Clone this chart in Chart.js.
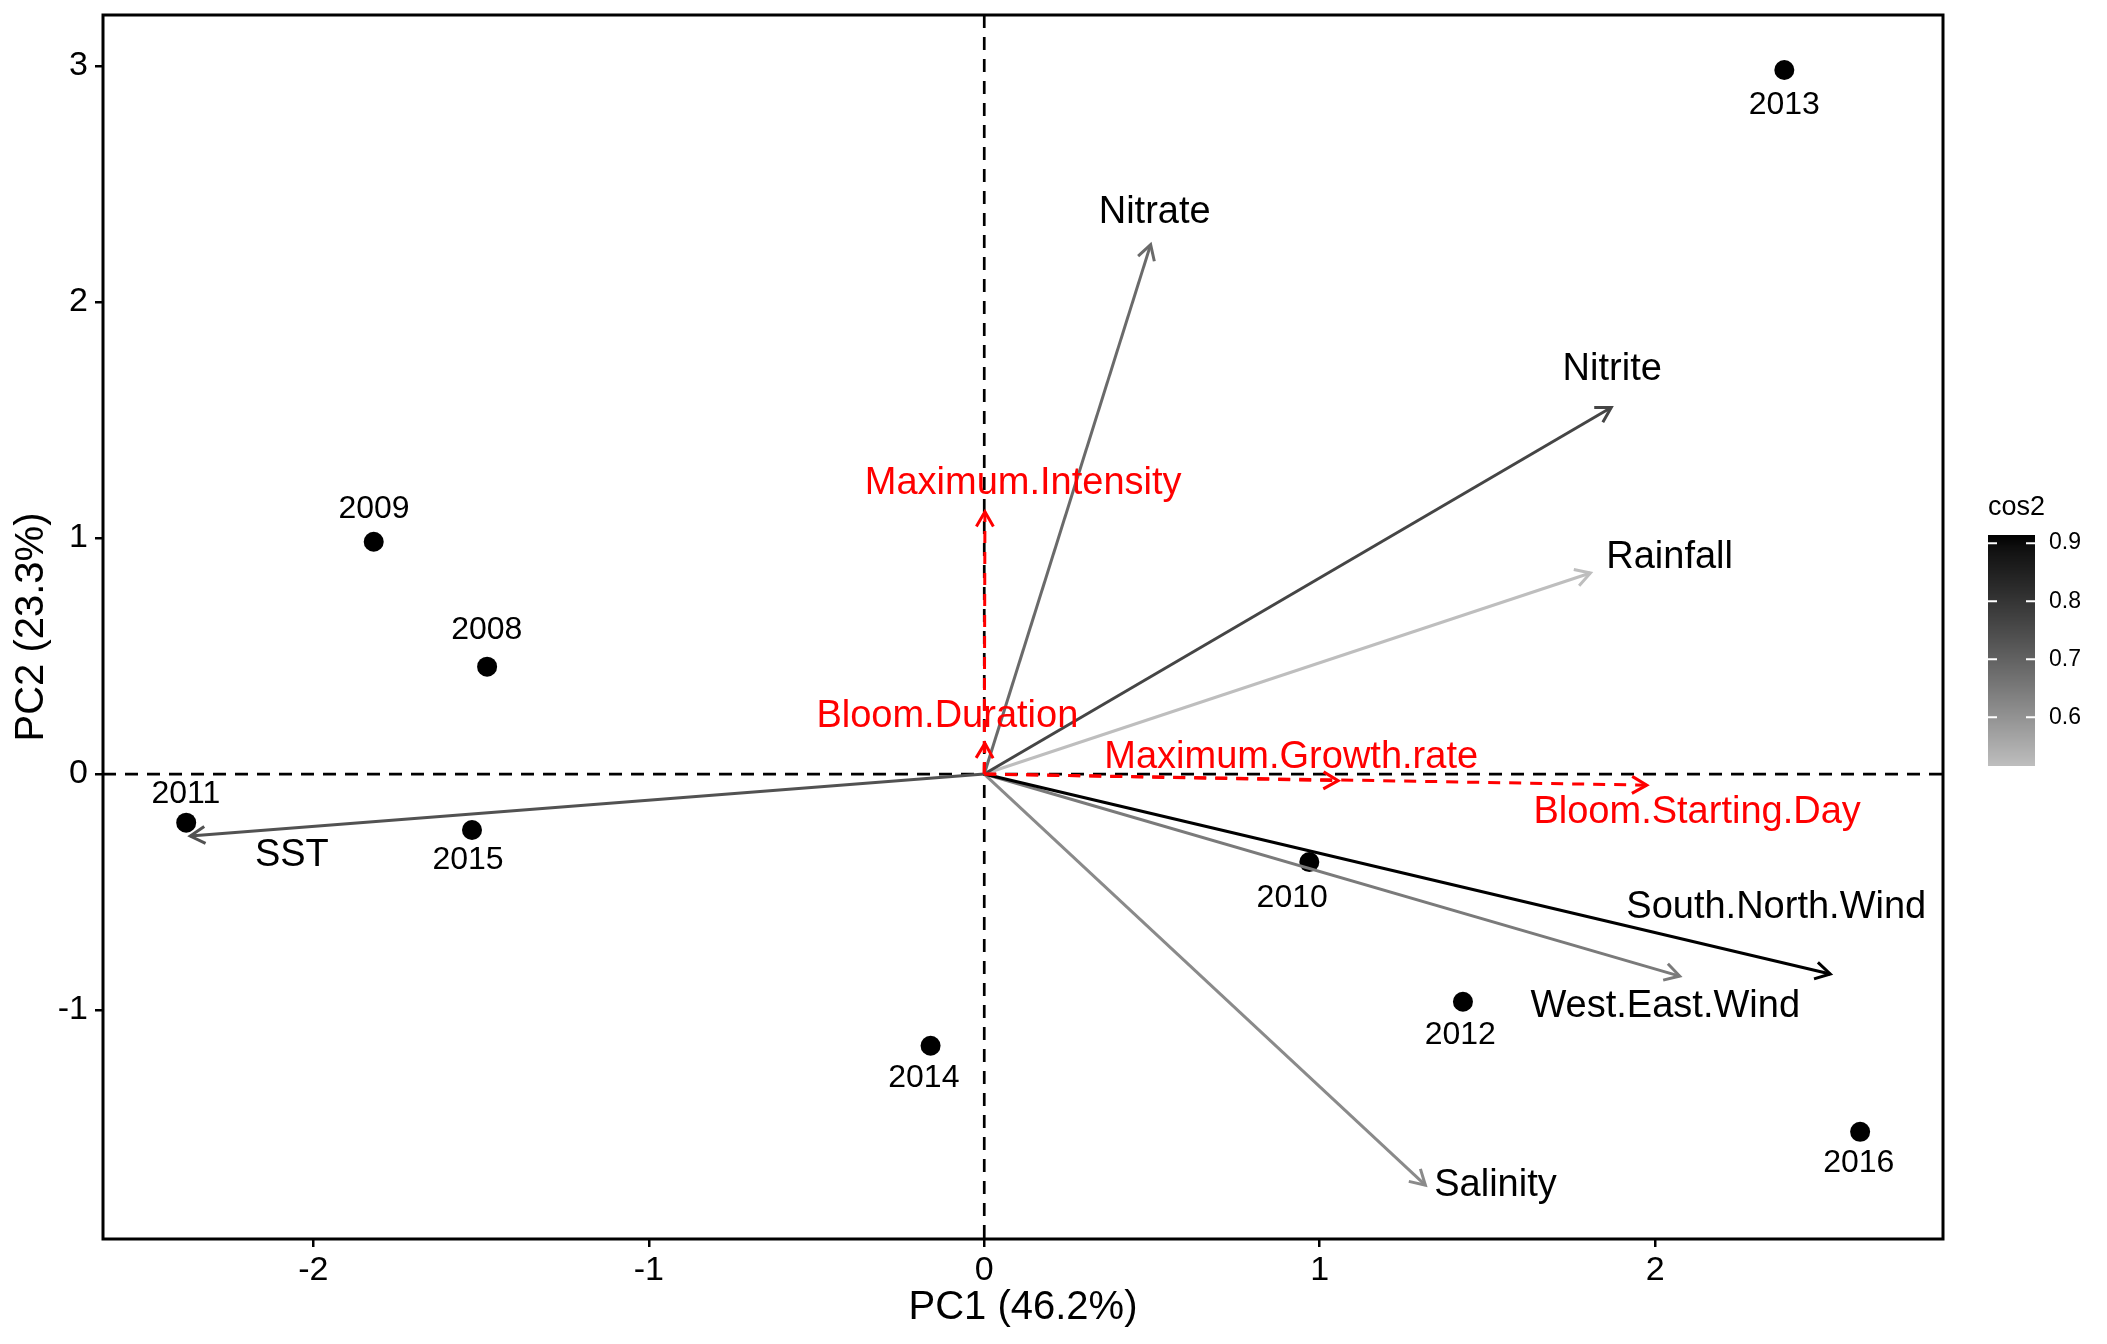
<!DOCTYPE html>
<html>
<head>
<meta charset="utf-8">
<script src="https://cdn.jsdelivr.net/npm/chart.js@4.4.0/dist/chart.umd.min.js"></script>
<style>
    body { margin: 0; background: #ffffff; }
    canvas { display: block; }
</style>
</head>
<body>
<canvas id="chartCanvas" width="2107" height="1344"></canvas>
<script>
const years = ['2008', '2009', '2010', '2011', '2012', '2013', '2014', '2015', '2016'];
const indX = [-1.482, -1.820, 0.969, -2.379, 1.427, 2.385, -0.160, -1.527, 2.611];
const indY = [0.455, 0.984, -0.373, -0.206, -0.965, 2.983, -1.151, -0.237, -1.516];
const indLabelX = [-1.483, -1.819, 0.918, -2.380, 1.419, 2.385, -0.180, -1.539, 2.607];
const indLabelY = [0.609, 1.122, -0.525, -0.086, -1.106, 2.835, -1.288, -0.364, -1.647];

const variables = ['Nitrate', 'Nitrite', 'Rainfall', 'SST', 'South.North.Wind', 'West.East.Wind', 'Salinity'];
const varX = [0.496, 1.869, 1.807, -2.367, 2.522, 2.073, 1.315];
const varY = [2.243, 1.553, 0.852, -0.263, -0.847, -0.856, -1.742];
const varLabelX = [0.508, 1.872, 2.043, -2.064, 2.361, 2.030, 1.524];
const varLabelY = [2.381, 1.716, 0.917, -0.347, -0.564, -0.987, -1.744];
const cos2 = [0.682, 0.763, 0.516, 0.733, 0.914, 0.650, 0.616];

const suppVars = ['Maximum.Intensity', 'Bloom.Duration', 'Maximum.Growth.rate', 'Bloom.Starting.Day'];
const suppX = [0.002, 0.002, 1.055, 1.975];
const suppY = [1.111, 0.130, -0.028, -0.047];
const suppLabelX = [0.116, -0.110, 0.915, 2.125];
const suppLabelY = [1.233, 0.242, 0.068, -0.161];

const xTicks = [-2, -1, 0, 1, 2];
const yTicks = [-1, 0, 1, 2, 3];
const legendTicks = [0.6, 0.7, 0.8, 0.9];

const FONT = "'Liberation Sans', Arial, sans-serif";
Chart.defaults.font.family = FONT;
Chart.defaults.color = '#000000';

// grey (#BEBEBE) -> black, interpolated on Lab lightness
function greyFor(v) {
    const lo = Math.min(...cos2);
    const hi = Math.max(...cos2);
    const t = (v - lo) / (hi - lo);
    const L = 76.95 * (1 - t);
    let yl = (L + 16) / 116;
    yl = L > 8 ? yl * yl * yl : L / 903.3;
    let c = yl <= 0.0031308 ? 12.92 * yl : 1.055 * Math.pow(yl, 1 / 2.4) - 0.055;
    c = Math.round(Math.max(0, Math.min(1, c)) * 255);
    return 'rgb(' + c + ',' + c + ',' + c + ')';
}

const datasets = [];

datasets.push({
    label: 'ind',
    data: indX.map((x, i) => ({ x: x, y: indY[i] })),
    backgroundColor: '#000000',
    borderWidth: 0,
    pointRadius: 10,
    showLine: false,
    order: 3,
});

variables.forEach((name, i) => {
    datasets.push({
        label: name,
        data: [{ x: 0, y: 0 }, { x: varX[i], y: varY[i] }],
        borderColor: greyFor(cos2[i]),
        borderWidth: 3,
        pointRadius: 0,
        showLine: true,
        arrow: true,
        order: 2,
    });
});

suppVars.forEach((name, i) => {
    datasets.push({
        label: name,
        data: [{ x: 0, y: 0 }, { x: suppX[i], y: suppY[i] }],
        borderColor: '#ff0000',
        borderWidth: 3,
        borderDash: [12, 9],
        pointRadius: 0,
        showLine: true,
        arrow: true,
        order: 1,
    });
});

const zeroLines = {
    id: 'zeroLines',
    beforeDatasetsDraw(chart) {
        const { ctx, chartArea, scales } = chart;
        const x0 = scales.x.getPixelForValue(0);
        const y0 = scales.y.getPixelForValue(0);
        ctx.save();
        ctx.strokeStyle = '#000000';
        ctx.lineWidth = 2.7;
        ctx.setLineDash([13, 9]);
        ctx.beginPath();
        ctx.moveTo(chartArea.left, y0);
        ctx.lineTo(chartArea.right, y0);
        ctx.moveTo(x0, chartArea.top);
        ctx.lineTo(x0, chartArea.bottom);
        ctx.stroke();
        ctx.restore();
    },
};

const arrowHeads = {
    id: 'arrowHeads',
    afterDatasetsDraw(chart) {
        const ctx = chart.ctx;
        chart.data.datasets.forEach((ds, i) => {
            if (!ds.arrow) return;
            const pts = chart.getDatasetMeta(i).data;
            const a = pts[0];
            const b = pts[1];
            const ang = Math.atan2(b.y - a.y, b.x - a.x);
            const len = 17;
            ctx.save();
            ctx.strokeStyle = ds.borderColor;
            ctx.lineWidth = 3;
            ctx.beginPath();
            ctx.moveTo(b.x - len * Math.cos(ang - Math.PI / 6), b.y - len * Math.sin(ang - Math.PI / 6));
            ctx.lineTo(b.x, b.y);
            ctx.lineTo(b.x - len * Math.cos(ang + Math.PI / 6), b.y - len * Math.sin(ang + Math.PI / 6));
            ctx.stroke();
            ctx.restore();
        });
    },
};

const textLabels = {
    id: 'textLabels',
    afterDatasetsDraw(chart) {
        const { ctx, scales } = chart;
        const put = (text, x, y, size, color) => {
            ctx.font = size + 'px ' + FONT;
            ctx.fillStyle = color;
            ctx.fillText(text, scales.x.getPixelForValue(x), scales.y.getPixelForValue(y));
        };
        ctx.save();
        ctx.textAlign = 'center';
        ctx.textBaseline = 'middle';
        years.forEach((t, i) => put(t, indLabelX[i], indLabelY[i], 32, '#000000'));
        variables.forEach((t, i) => put(t, varLabelX[i], varLabelY[i], 38, '#000000'));
        suppVars.forEach((t, i) => put(t, suppLabelX[i], suppLabelY[i], 38, '#ff0000'));
        ctx.restore();
    },
};

const panelAndLegend = {
    id: 'panelAndLegend',
    afterDraw(chart) {
        const { ctx, chartArea } = chart;
        ctx.save();
        ctx.strokeStyle = '#000000';
        ctx.lineWidth = 3;
        ctx.strokeRect(chartArea.left, chartArea.top, chartArea.right - chartArea.left, chartArea.bottom - chartArea.top);

        // colour bar for cos2
        const lo = Math.min(...cos2);
        const hi = Math.max(...cos2);
        const bx = 1988, bw = 47, top = 535, bottom = 766;
        const yFor = v => bottom - (v - lo) / (hi - lo) * (bottom - top);
        for (let y = top; y < bottom; y++) {
            const v = lo + (bottom - y - 0.5) / (bottom - top) * (hi - lo);
            ctx.fillStyle = greyFor(v);
            ctx.fillRect(bx, y, bw, 1);
        }
        ctx.strokeStyle = '#ffffff';
        ctx.lineWidth = 2;
        ctx.font = '23px ' + FONT;
        ctx.fillStyle = '#000000';
        ctx.textAlign = 'left';
        ctx.textBaseline = 'middle';
        legendTicks.forEach(v => {
            const y = yFor(v);
            ctx.beginPath();
            ctx.moveTo(bx, y);
            ctx.lineTo(bx + 9, y);
            ctx.moveTo(bx + bw - 9, y);
            ctx.lineTo(bx + bw, y);
            ctx.stroke();
            ctx.fillText(String(v), 2049, y);
        });
        ctx.font = '27px ' + FONT;
        ctx.fillText('cos2', 1988, 508);
        ctx.restore();
    },
};

const ctx = document.getElementById('chartCanvas').getContext('2d');
new Chart(ctx, {
    type: 'scatter',
    data: { datasets: datasets },
    options: {
        responsive: false,
        animation: false,
        devicePixelRatio: 1,
        layout: {
            padding: { left: 0, right: 164, top: 15, bottom: 0 },
        },
        plugins: {
            legend: { display: false },
            tooltip: { enabled: false },
        },
        scales: {
            x: {
                type: 'linear',
                min: -2.627,
                max: 2.858,
                afterFit: s => {
                    s.height = 105;
                    s.paddingLeft = 0;
                    s.paddingRight = 0;
                },
                afterBuildTicks: s => { s.ticks = xTicks.map(v => ({ value: v })); },
                border: { display: false },
                grid: { drawOnChartArea: false, drawTicks: true, tickLength: 8, color: '#000000', lineWidth: 2.5 },
                ticks: { font: { size: 34 }, color: '#000000', padding: 3, maxRotation: 0 },
                title: {
                    display: true,
                    text: 'PC1 (46.2%)',
                    font: { size: 40 },
                    color: '#000000',
                    padding: { top: 0, bottom: 12 },
                },
            },
            y: {
                type: 'linear',
                min: -1.970,
                max: 3.216,
                afterFit: s => {
                    s.width = 103;
                    s.paddingTop = 0;
                    s.paddingBottom = 0;
                },
                afterBuildTicks: s => { s.ticks = yTicks.map(v => ({ value: v })); },
                border: { display: false },
                grid: { drawOnChartArea: false, drawTicks: true, tickLength: 8, color: '#000000', lineWidth: 2.5 },
                ticks: { font: { size: 34 }, color: '#000000', padding: 7 },
                title: {
                    display: true,
                    text: 'PC2 (23.3%)',
                    font: { size: 40 },
                    color: '#000000',
                    padding: { top: 8, bottom: 0 },
                },
            },
        },
    },
    plugins: [zeroLines, arrowHeads, textLabels, panelAndLegend],
});
</script>
</body>
</html>
